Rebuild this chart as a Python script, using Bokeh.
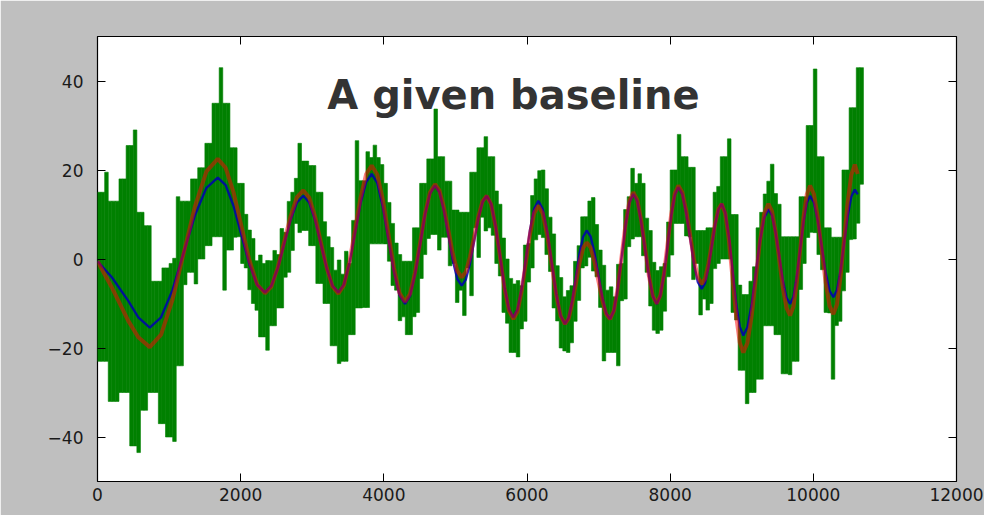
import numpy as np
from bokeh.plotting import figure
from bokeh.models import Range1d, LinearAxis, FixedTicker, Label
from bokeh.embed import file_html
from bokeh.resources import INLINE

# ---------------- data ----------------
x_ticks = [0, 2000, 4000, 6000, 8000, 10000, 12000]
y_ticks = [-40, -20, 0, 20, 40]
y_tick_labels = ["\u221240", "\u221220", "0", "20", "40"]
title_text = "A given baseline"

# noisy signal: upper envelope sampled every 100 (from 0), lower envelope sampled every 100 (from 50)
green_step = 100
green_hi = [15, 19.5, 13, 18, 25.5, 29, 10.5, 7.5, -5, -2,
            -1, 14, 13, 18, 20.5, 26, 35, 43, 35, 25,
            17, 6.5, -0.4, -1, -0.4, 1, 6, 15, 26, 22,
            21, 15, 5, -2.5, -3.4, -1, 26.6, 17.6, 22.8, 22.8,
            17, 8, 1, -0.5, 7, 17, 22.5, 33.7, 23, 17.5,
            11, 10.5, 19.5, 25, 27.5, 23, 12.3, 0, -5.6, -6,
            3.5, 18, 20, 9.4, -1.5, -8.5, -6, 3, 9.5, 13.8,
            2, -7, -8.5, -1, 14, 17, 17, 6.4, -2.6, -1,
            20, 28, 23, 20.6, 6.4, 7, 15, 23, 27, 10,
            -8, -5, 7, 14.6, 21.3, 12.3, 5, 5, 14, 30,
            42.7, 23, 7, 4.9, 20, 34, 43]
green_lo = [-23, -32, -32, -30, -42, -43.5, -34, -30, -37, -40,
            -41, -24, -3, -5.6, 0, 3, 5, -7, 2, 5,
            -2, -10, -17.5, -20.5, -15, -11, -3, 8, 6.4, 3,
            -5.5, -10, -19.5, -23.5, -23, -17, -11, -10.9, 3.4, 3.4,
            -0.5, -7, -13, -17, -12, 1, 5.5, 2, 4.9, -1,
            -7, -2, 7, 9.4, 7, -1, -12, -21, -22, -14,
            -2, 5.5, 1, -11, -20, -21, -14, -2, 0.4, -4,
            -22.9, -21, -24, -9, 4.5, 5, -3, -16, -16, -4,
            8, 8, 5, -1, -9, -10, -1, 0, -12, -25,
            -32.5, -30, -27, -15, -17, -25.8, -26, -23, -1, 6,
            1, -12, -27, -14, -3, 4.5, 16.8]

# smooth curves (shared sample positions)
curve_x = [0, 200, 430, 570, 730,
           888, 1047, 1205, 1363, 1522, 1680,
           1790, 1900, 2010, 2120, 2230, 2340,
           2429, 2518, 2608, 2697, 2786, 2875,
           2957, 3038, 3120, 3202, 3283, 3365,
           3443, 3520, 3598, 3675, 3753, 3830,
           3908, 3985, 4063, 4141, 4218, 4296,
           4366, 4436, 4506, 4575, 4645, 4715,
           4777, 4839, 4902, 4964, 5026, 5088,
           5146, 5204, 5263, 5321, 5379, 5437,
           5499, 5561, 5624, 5686, 5748, 5810,
           5868, 5926, 5984, 6042, 6100, 6158,
           6220, 6282, 6345, 6407, 6469, 6531,
           6582, 6632, 6683, 6733, 6784, 6834,
           6888, 6943, 6997, 7051, 7106, 7160,
           7214, 7268, 7323, 7377, 7431, 7485,
           7540, 7594, 7649, 7703, 7758, 7812,
           7862, 7913, 7963, 8013, 8064, 8114,
           8169, 8223, 8278, 8332, 8387, 8441,
           8488, 8534, 8581, 8627, 8674, 8720,
           8770, 8821, 8871, 8921, 8972, 9022,
           9080, 9139, 9197, 9255, 9314, 9372,
           9423, 9473, 9524, 9574, 9625, 9675,
           9722, 9768, 9815, 9861, 9908, 9954,
           10008, 10063, 10117, 10171, 10226, 10280,
           10330, 10380, 10430, 10480, 10530, 10580,
           10620]
blue_y = [-0.5, -4.1, -9.4, -13.1, -15.4,
          -13.1, -7.0, 1.5, 9.9, 16.0, 18.3,
          16.6, 11.9, 5.4, -1.1, -5.8, -7.5,
          -6.0, -2.1, 3.4, 8.8, 12.7, 14.2,
          12.7, 8.8, 3.4, -2.1, -6.0, -7.5,
          -5.7, -0.9, 5.8, 12.5, 17.3, 19.1,
          17.1, 11.8, 4.5, -2.8, -8.1, -10.1,
          -8.3, -3.5, 3.2, 9.9, 14.7, 16.5,
          15.0, 10.9, 5.3, -0.4, -4.5, -6.0,
          -4.6, -1.0, 4.1, 9.2, 12.8, 14.2,
          12.4, 7.4, 0.6, -6.3, -11.3, -13.1,
          -11.3, -6.6, 0.0, 6.6, 11.3, 13.1,
          11.2, 6.2, -0.8, -7.7, -12.7, -14.6,
          -13.2, -9.4, -4.1, 1.2, 5.0, 6.4,
          5.1, 1.4, -3.6, -8.5, -12.2, -13.5,
          -11.6, -6.5, 0.6, 7.6, 12.7, 14.6,
          13.0, 8.4, 2.3, -3.9, -8.4, -10.1,
          -8.3, -3.5, 3.0, 9.6, 14.3, 16.1,
          14.6, 10.4, 4.7, -1.0, -5.2, -6.7,
          -5.4, -1.9, 2.9, 7.6, 11.1, 12.4,
          10.4, 5.0, -2.4, -9.8, -15.2, -17.2,
          -15.3, -10.1, -3.0, 4.1, 9.3, 11.2,
          9.8, 5.9, 0.6, -4.8, -8.7, -10.1,
          -8.5, -4.0, 2.1, 8.1, 12.6, 14.2,
          12.7, 8.5, 2.8, -2.9, -7.1, -8.6,
          -7.0, -2.6, 3.5, 9.6, 14.0, 15.6,
          14.5]
red_y = [-0.5, -6.4, -13.9, -17.6, -19.8,
         -17.0, -9.2, 1.4, 11.9, 19.7, 22.5,
         20.5, 15.0, 7.4, -0.2, -5.7, -7.7,
         -6.2, -1.9, 3.9, 9.6, 13.9, 15.4,
         13.8, 9.6, 3.8, -2.0, -6.2, -7.8,
         -5.9, -0.6, 6.6, 13.8, 19.1, 21.0,
         19.0, 13.4, 5.7, -2.0, -7.6, -9.6,
         -7.8, -3.0, 3.6, 10.2, 15.0, 16.8,
         15.4, 11.6, 6.4, 1.1, -2.7, -4.1,
         -2.9, 0.5, 5.1, 9.6, 13.0, 14.2,
         12.3, 7.3, 0.4, -6.6, -11.6, -13.5,
         -11.8, -7.1, -0.8, 5.6, 10.3, 12.0,
         10.2, 5.4, -1.3, -8.0, -12.8, -14.6,
         -13.4, -10.0, -5.5, -0.9, 2.5, 3.7,
         2.6, -0.6, -4.9, -9.2, -12.4, -13.5,
         -11.6, -6.4, 0.8, 7.9, 13.1, 15.0,
         13.3, 8.8, 2.5, -3.8, -8.3, -10.0,
         -8.2, -3.4, 3.3, 9.9, 14.7, 16.5,
         15.0, 11.0, 5.5, -0.1, -4.1, -5.6,
         -4.4, -1.1, 3.4, 7.9, 11.2, 12.4,
         10.2, 4.1, -4.3, -12.7, -18.8, -21.0,
         -18.8, -12.7, -4.3, 4.1, 10.2, 12.4,
         10.7, 6.1, -0.2, -6.4, -11.0, -12.7,
         -10.7, -5.4, 1.9, 9.2, 14.5, 16.5,
         14.6, 9.3, 2.1, -5.2, -10.5, -12.4,
         -10.2, -4.0, 4.4, 12.8, 18.9, 21.2,
         19.1]

# ---------------- figure ----------------
p = figure(width=984, height=515, output_backend="svg", toolbar_location=None,
           x_range=Range1d(0, 12000), y_range=Range1d(-50, 50),
           x_axis_location=None, y_axis_location=None,
           min_border_left=97, min_border_right=28, min_border_top=36, min_border_bottom=34)
p.border_fill_color = "#bfbfbf"
p.background_fill_color = "white"
p.outline_line_color = "black"
p.outline_line_width = 1.2
p.grid.visible = False


def make_axis(ticks, overrides, show):
    a = LinearAxis(ticker=FixedTicker(ticks=ticks, minor_ticks=[]))
    a.major_label_overrides = overrides
    a.axis_line_color = None
    a.major_tick_in = 8
    a.major_tick_out = 0
    a.major_tick_line_color = "black"
    a.major_tick_line_width = 1
    a.minor_tick_line_color = None
    a.major_label_text_font = "DejaVu Sans"
    a.major_label_text_font_size = "17px" if show else "0px"
    a.major_label_text_color = "#1a1a1a"
    if not show:
        a.major_label_text_alpha = 0
    return a


ylab = {t: s for t, s in zip(y_ticks, y_tick_labels)}
ax_b = make_axis(x_ticks, {}, True)
ax_b.major_label_standoff = 6
ax_l = make_axis(y_ticks, ylab, True)
ax_l.major_label_standoff = 14
ax_t = make_axis(x_ticks, {}, False)
ax_r = make_axis(y_ticks, {}, False)
p.add_layout(ax_b, "below")
p.add_layout(ax_l, "left")
p.add_layout(ax_t, "above")
p.add_layout(ax_r, "right")

# noisy green signal: alternating up/down vertical strokes
hi = np.array(green_hi, dtype=float)
lo = np.array(green_lo, dtype=float)
hi_x = np.arange(len(hi)) * green_step
lo_x = hi_x + green_step / 2
core = 7.0
base_hi = np.interp(hi_x, curve_x, blue_y)
base_lo = np.interp(lo_x, curve_x, blue_y)
lo_prev = np.concatenate([[lo[0]], lo[:-1]])
hi_next = np.concatenate([hi[1:], [hi[-1]]])
up_bottom = np.minimum(np.maximum(lo_prev, lo), base_hi - core)
down_top = np.maximum(np.minimum(hi, hi_next), base_lo + core)
green = "#008000"
p.vbar(x=hi_x + green_step / 4, top=hi, bottom=up_bottom, width=green_step / 2,
       fill_color=green, line_color=green, line_width=0.6)
p.vbar(x=lo_x + green_step / 4, top=down_top, bottom=lo, width=green_step / 2,
       fill_color=green, line_color=green, line_width=0.6)

p.line(curve_x, blue_y, line_color="#0000b0", line_width=2.4, line_alpha=0.85)
p.line(curve_x, red_y, line_color="#ff0000", line_width=4, line_alpha=0.5)

p.add_layout(Label(x=5811, y=36.9, text=title_text, text_font="DejaVu Sans",
                   text_font_style="bold", text_font_size="40px", text_color="#333333",
                   text_align="center", text_baseline="alphabetic"))

open("out.html", "w").write(file_html(p, INLINE))
